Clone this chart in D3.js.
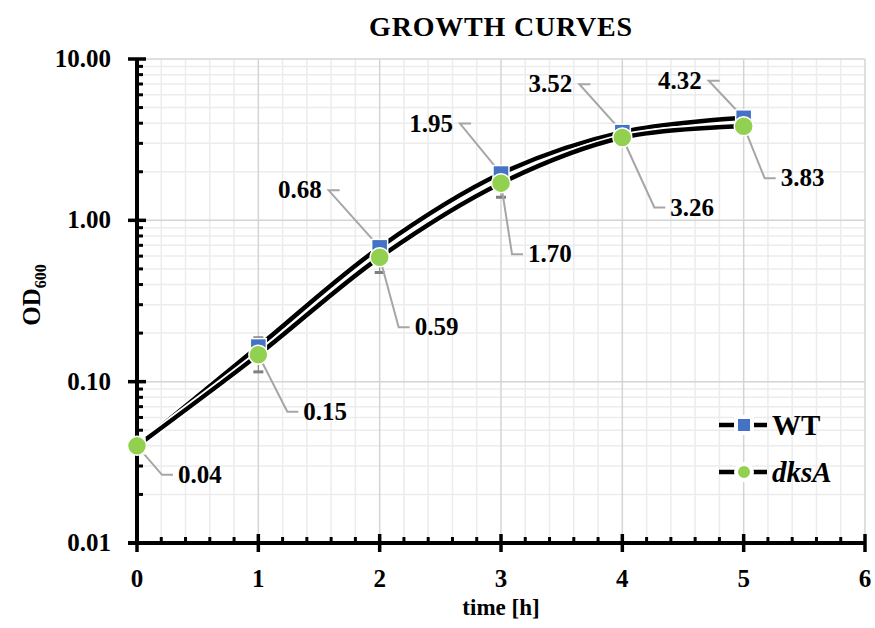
<!DOCTYPE html>
<html>
<head>
<meta charset="utf-8">
<script src="https://cdn.jsdelivr.net/npm/d3@7"></script>
<style>
  body { margin: 0; background: #fff; }
  text { font-family: "Liberation Serif", "DejaVu Serif", serif; }
</style>
</head>
<body>
<script>
// data
const hours = [0, 1, 2, 3, 4, 5];
const wt = [0.04, 0.165, 0.68, 1.95, 3.52, 4.32];
const wtErr = [0.003, 0.022, 0.03, 0.06, 0.1, 0.1];
const dksA = [0.04, 0.147, 0.59, 1.70, 3.26, 3.83];
const dksAErr = [0.003, 0.032, 0.115, 0.31, 0.12, 0.15];
const yTicks = [0.01, 0.1, 1, 10];
const xTicks = [0, 1, 2, 3, 4, 5, 6];

// which points carry a value label, and where the label sits (px from point)
const wtLabelShow = [false, false, true, true, true, true];
const wtLabelOff = [[0, 0], [0, 0], [-58, -57], [-48, -50], [-50, -48], [-42, -37]];
const dksLabelShow = [true, true, true, true, true, true];
const dksLabelOff = [[41, 29], [45, 57], [35, 70], [27, 71], [48, 70], [37, 52]];

const W = 875, H = 628;
const margin = { top: 59, right: 10, bottom: 85, left: 137 };

const svg = d3.select('body').append('svg')
    .attr('width', W)
    .attr('height', H);

const x = d3.scaleLinear().domain([0, 6]).range([margin.left, W - margin.right]);
const y = d3.scaleLog().domain([0.01, 10]).range([H - margin.bottom, margin.top]);

// grid
const grid = svg.append('g');
const minorX = d3.range(0, 6.001, 0.2).filter(v => Math.abs(v - Math.round(v)) > 1e-6);
const minorY = [];
[0.01, 0.1, 1].forEach(d => { for (let k = 2; k <= 9; k++) minorY.push(d * k); });

grid.selectAll('.mx').data(minorX).enter().append('line')
    .attr('x1', d => x(d)).attr('x2', d => x(d))
    .attr('y1', y(10)).attr('y2', y(0.01))
    .attr('stroke', '#ececec').attr('stroke-width', 1.5);
grid.selectAll('.my').data(minorY).enter().append('line')
    .attr('x1', x(0)).attr('x2', x(6))
    .attr('y1', d => y(d)).attr('y2', d => y(d))
    .attr('stroke', '#ececec').attr('stroke-width', 1.5);
grid.selectAll('.MX').data(xTicks.slice(1)).enter().append('line')
    .attr('x1', d => x(d)).attr('x2', d => x(d))
    .attr('y1', y(10)).attr('y2', y(0.01))
    .attr('stroke', '#d4d4d4').attr('stroke-width', 1.5);
grid.selectAll('.MY').data(yTicks.slice(1)).enter().append('line')
    .attr('x1', x(0)).attr('x2', x(6))
    .attr('y1', d => y(d)).attr('y2', d => y(d))
    .attr('stroke', '#d4d4d4').attr('stroke-width', 1.5);

// axes
const axes = svg.append('g');
axes.append('line')
    .attr('x1', x(0)).attr('x2', x(0))
    .attr('y1', y(10) - 1).attr('y2', y(0.01))
    .attr('stroke', '#000').attr('stroke-width', 4);
axes.append('line')
    .attr('x1', x(0) - 9).attr('x2', x(6))
    .attr('y1', y(0.01)).attr('y2', y(0.01))
    .attr('stroke', '#000').attr('stroke-width', 4);
axes.selectAll('.ymaj').data(yTicks).enter().append('line')
    .attr('x1', x(0) - 9).attr('x2', x(0) + 9)
    .attr('y1', d => y(d)).attr('y2', d => y(d))
    .attr('stroke', '#000').attr('stroke-width', 3.5);
axes.selectAll('.ymin').data(minorY).enter().append('line')
    .attr('x1', x(0)).attr('x2', x(0) + 6)
    .attr('y1', d => y(d)).attr('y2', d => y(d))
    .attr('stroke', '#000').attr('stroke-width', 3);
axes.selectAll('.xmaj').data(xTicks).enter().append('line')
    .attr('x1', d => x(d)).attr('x2', d => x(d))
    .attr('y1', y(0.01) - 9).attr('y2', y(0.01) + 9)
    .attr('stroke', '#000').attr('stroke-width', 3.5);
axes.selectAll('.xmin').data(minorX).enter().append('line')
    .attr('x1', d => x(d)).attr('x2', d => x(d))
    .attr('y1', y(0.01) - 6).attr('y2', y(0.01))
    .attr('stroke', '#000').attr('stroke-width', 3);

axes.selectAll('.ylab').data(yTicks).enter().append('text')
    .attr('x', x(0) - 26).attr('y', d => y(d) + 8)
    .attr('text-anchor', 'end')
    .attr('font-size', 25).attr('font-weight', 'bold')
    .text(d => d.toFixed(2));
axes.selectAll('.xlab').data(xTicks).enter().append('text')
    .attr('x', d => x(d)).attr('y', y(0.01) + 44)
    .attr('text-anchor', 'middle')
    .attr('font-size', 25).attr('font-weight', 'bold')
    .text(d => d);

// titles
svg.append('text')
    .attr('x', 501).attr('y', 36)
    .attr('text-anchor', 'middle')
    .attr('font-size', 28).attr('font-weight', 'bold')
    .attr('letter-spacing', 0.8)
    .text('GROWTH CURVES');
svg.append('text')
    .attr('x', x(3)).attr('y', 615)
    .attr('text-anchor', 'middle')
    .attr('font-size', 23).attr('font-weight', 'bold')
    .text('time [h]');
const yt = svg.append('text')
    .attr('transform', 'translate(40,295) rotate(-90)')
    .attr('text-anchor', 'middle')
    .attr('font-size', 25).attr('font-weight', 'bold');
yt.append('tspan').text('OD');
yt.append('tspan').attr('font-size', 16).attr('dy', 6).text('600');

// curves
const line = d3.line()
    .x((d, i) => x(hours[i]))
    .y(d => y(d))
    .curve(d3.curveCatmullRom.alpha(0.5));

const curves = svg.append('g');
[wt, dksA].forEach(s => {
  curves.append('path').attr('d', line(s))
      .attr('fill', 'none').attr('stroke', '#fff').attr('stroke-width', 8);
  curves.append('path').attr('d', line(s))
      .attr('fill', 'none').attr('stroke', '#000').attr('stroke-width', 4.5);
});

// error bars
function errBars(vals, errs) {
  const g = svg.append('g');
  vals.forEach((v, i) => {
    const cx = x(hours[i]);
    const lo = y(v - errs[i]), hi = y(v + errs[i]);
    g.append('line').attr('x1', cx).attr('x2', cx).attr('y1', lo).attr('y2', hi)
        .attr('stroke', '#7f7f7f').attr('stroke-width', 1);
    [lo, hi].forEach(yy => {
      g.append('line').attr('x1', cx - 5).attr('x2', cx + 5).attr('y1', yy).attr('y2', yy)
          .attr('stroke', '#7f7f7f').attr('stroke-width', 3);
    });
  });
}
errBars(wt, wtErr);
errBars(dksA, dksAErr);

// leader lines and labels
function labels(vals, show, offs, side) {
  const g = svg.append('g');
  vals.forEach((v, i) => {
    if (!show[i]) return;
    const px = x(hours[i]), py = y(v);
    const [dx, dy] = offs[i];
    const tx = px + dx, ty = py + dy;
    const elbow = side > 0 ? tx - 16 : tx + 7;
    const end = side > 0 ? tx - 5 : tx + 18;
    g.append('path')
        .attr('d', `M${px},${py}L${elbow},${ty}L${end},${ty}`)
        .attr('fill', 'none').attr('stroke', '#a6a6a6').attr('stroke-width', 2);
    g.append('text')
        .attr('x', tx).attr('y', ty + 8)
        .attr('text-anchor', side > 0 ? 'start' : 'end')
        .attr('font-size', 25).attr('font-weight', 'bold')
        .text(v.toFixed(2));
  });
}
labels(dksA, dksLabelShow, dksLabelOff, 1);
labels(wt, wtLabelShow, wtLabelOff, -1);

// markers
svg.append('g').selectAll('rect').data(wt).enter().append('rect')
    .attr('x', (d, i) => x(hours[i]) - 8).attr('y', d => y(d) - 8)
    .attr('width', 16).attr('height', 16)
    .attr('fill', '#4472c4').attr('stroke', '#fff').attr('stroke-width', 1.5);
svg.append('g').selectAll('circle').data(dksA).enter().append('circle')
    .attr('cx', (d, i) => x(hours[i])).attr('cy', d => y(d))
    .attr('r', 9.5)
    .attr('fill', '#92d050').attr('stroke', '#fff').attr('stroke-width', 1.5);

// legend
const legend = svg.append('g');
const legItems = [
  { name: 'WT', italic: false, shape: 'rect' },
  { name: 'dksA', italic: true, shape: 'circle' }
];
legItems.forEach((d, i) => {
  const ly = 425 + i * 47;
  legend.append('line').attr('x1', 719).attr('x2', 767).attr('y1', ly).attr('y2', ly)
      .attr('stroke', '#000').attr('stroke-width', 4.5);
  if (d.shape === 'rect') {
    legend.append('rect').attr('x', 736).attr('y', ly - 8).attr('width', 16).attr('height', 16)
        .attr('fill', '#4472c4').attr('stroke', '#fff').attr('stroke-width', 4);
  } else {
    legend.append('circle').attr('cx', 744).attr('cy', ly).attr('r', 8)
        .attr('fill', '#92d050').attr('stroke', '#fff').attr('stroke-width', 4);
  }
  legend.append('text')
      .attr('x', 772).attr('y', ly + 10)
      .attr('font-size', 29).attr('font-weight', 'bold')
      .attr('font-style', d.italic ? 'italic' : 'normal')
      .text(d.name);
});
</script>
</body>
</html>
